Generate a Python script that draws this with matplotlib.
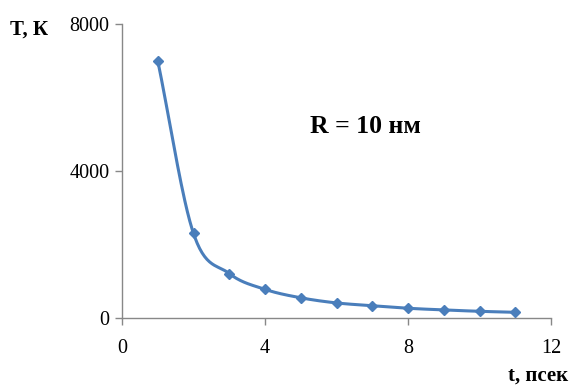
import numpy as np
import matplotlib
matplotlib.use("Agg")
import matplotlib.pyplot as plt

t_values = [1, 2, 3, 4, 5, 6, 7, 8, 9, 10, 11]
T_values = [7000, 2300, 1210, 780, 550, 410, 335, 265, 220, 182, 155]
x_ticks = [0, 4, 8, 12]
y_ticks = [0, 4000, 8000]

plt.rcParams['font.family'] = ['Liberation Serif', 'DejaVu Serif']

def catmull_rom(x, y, n=30):
    x = np.asarray(x, float); y = np.asarray(y, float)
    px = np.concatenate([[2*x[0]-x[1]], x, [2*x[-1]-x[-2]]])
    py = np.concatenate([[2*y[0]-y[1]], y, [2*y[-1]-y[-2]]])
    xs, ys = [], []
    s = np.linspace(0, 1, n)
    for i in range(1, len(px)-2):
        for arr, out in ((px, xs), (py, ys)):
            p0, p1, p2, p3 = arr[i-1], arr[i], arr[i+1], arr[i+2]
            m1 = (p2 - p0) / 2 / 3
            m2 = (p3 - p1) / 2 / 3
            b0, b1, b2, b3 = p1, p1 + m1, p2 - m2, p2
            out.extend((1-s)**3*b0 + 3*(1-s)**2*s*b1 + 3*(1-s)*s**2*b2 + s**3*b3)
    return np.array(xs), np.array(ys)

fig = plt.figure(figsize=(5.74, 3.90), dpi=100)
ax = fig.add_axes([122/574, 1-318/390, (551-122)/574, (318-24)/390])

sx, sy = catmull_rom(t_values, T_values)
ax.plot(sx, sy, color='#4a7ebb', lw=2.2, zorder=2)
ax.plot(t_values, T_values, linestyle='none', marker='D', ms=5, color='#4a7ebb', zorder=3)

ax.set_xlim(0, 12)
ax.set_ylim(0, 8000)
ax.set_xticks(x_ticks)
ax.set_yticks(y_ticks)
for s in ['top', 'right']:
    ax.spines[s].set_visible(False)
for s in ['left', 'bottom']:
    ax.spines[s].set_color('#888888')
    ax.spines[s].set_linewidth(1.0)
ax.tick_params(axis='both', direction='out', length=5, color='#888888', labelsize=14.5, width=1.0)
ax.tick_params(axis='x', pad=10)
ax.tick_params(axis='y', pad=4)

fig.text(10/574, 1-30/390, 'T, К', fontsize=15, fontweight='bold', ha='left', va='center')
fig.text(568/574, 1-376/390, 't, псек', fontsize=15, fontweight='bold', ha='right', va='center')
ax.text(6.8, 5200, 'R = 10 нм', fontsize=18.5, fontweight='bold', ha='center', va='center')

fig.savefig('out.png', dpi=100)
